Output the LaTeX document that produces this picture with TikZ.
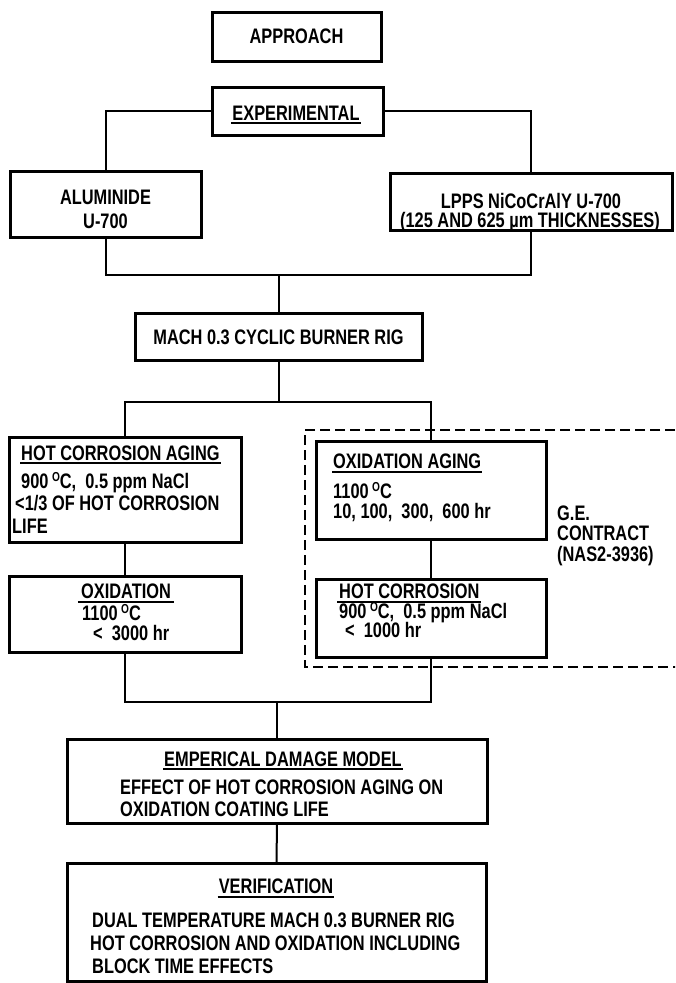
\documentclass[tikz,border=0pt]{standalone}
\usepackage{fontspec}
\newfontfamily\lab{Liberation Sans}[FakeStretch=0.78,UprightFont=*,BoldFont=* Bold]
\usetikzlibrary{calc}
\newcommand\dg{\raisebox{7pt}{\fontsize{13}{13}\selectfont O}}
\newcommand\bx[5]{\node[box,minimum width={(#4-#2)*1pt},minimum height={(#5-#3)*1pt}] (#1) at ({(#2+#4)/2},{(#3+#5)/2}) {};}
\begin{document}
\begin{tikzpicture}[x=1pt,y=-1pt,
  box/.style={draw,line width=3pt,inner sep=0pt,outer sep=0pt},
  conn/.style={line width=2pt},
  gedash/.style={line width=2pt,dash pattern=on 10pt off 5pt},
  t/.style={inner sep=0pt,font=\lab\bfseries\fontsize{21}{22}\selectfont},
  ul/.style={line width=1.8pt}]
\useasboundingbox (0,0) rectangle (675,983);
\clip (0,0) rectangle (675,983);
% dashed contract frame
\draw[gedash] (690,430) -- (305,430) -- (305,667) -- (690,667);
% boxes
\bx{appr}{212}{12}{381}{61}
\bx{exper}{212}{87}{383}{135}
\bx{alum}{10}{171}{201}{237}
\bx{lpps}{390}{173}{672}{230}
\bx{mach}{135}{313}{422}{360}
\bx{hca}{9}{437}{241}{542}
\bx{oxi}{9}{576}{241}{652}
\bx{oxa}{316}{441}{546}{539}
\bx{hc}{316}{579}{546}{657}
\bx{emp}{67}{739}{487}{823}
\bx{ver}{67}{863}{486}{981}
% texts
\node[t,anchor=base] (tap) at (296.5,43) {APPROACH};
\node[t,anchor=base] (tex) at (296,120) {EXPERIMENTAL};
\draw[ul] ($(tex.base west)+(-1,3)$) -- ($(tex.base east)+(1,3)$);
\node[t,anchor=base] (tal1) at (105.5,204) {ALUMINIDE};
\node[t,anchor=base] (tal2) at (105.5,228) {U-700};
\node[t,anchor=base] (tlp1) at (531,208) {LPPS NiCoCrAlY U-700};
\node[t,anchor=base] (tlp2) at (530,227) {(125 AND 625 µm THICKNESSES)};
\node[t,anchor=base] (tma) at (278.5,344) {MACH 0.3 CYCLIC BURNER RIG};
% hot corrosion aging
\node[t,anchor=base west] (th1) at (21,460) {HOT CORROSION AGING};
\draw[ul] ($(th1.base west)+(-1,3)$) -- ($(th1.base east)+(1,3)$);
\node[t,anchor=base west] (th2) at (21,488) {900\,\dg C, \ 0.5 ppm NaCl};
\node[t,anchor=base west] (th3) at (15,510) {<1/3 OF HOT CORROSION};
\node[t,anchor=base west] (th4) at (12,533) {LIFE};
% oxidation
\node[t,anchor=base] (to1) at (126,598) {OXIDATION};
\draw[ul] ($(to1.base west)+(-3,4)$) -- ($(to1.base east)+(3,4)$);
\node[t,anchor=base west] (to2) at (82,620) {1100\,\dg C};
\node[t,anchor=base west] (to3) at (93,640) {<\ \ 3000 hr};
% oxidation aging
\node[t,anchor=base west] (tx1) at (333,468) {OXIDATION AGING};
\draw[ul] ($(tx1.base west)+(-1,4)$) -- ($(tx1.base east)+(1,4)$);
\node[t,anchor=base west] (tx2) at (333,498) {1100\,\dg C};
\node[t,anchor=base west] (tx3) at (333,518) {10, 100, \ 300, \ 600 hr};
% hot corrosion
\node[t,anchor=base west] (tc1) at (339,598) {HOT CORROSION};
\draw[ul] ($(tc1.base west)+(-2,4)$) -- ($(tc1.base east)+(1,4)$);
\node[t,anchor=base west] (tc2) at (339,618) {900\,\dg C, \ 0.5 ppm NaCl};
\node[t,anchor=base west] (tc3) at (345,637) {<\ \ 1000 hr};
% G.E. contract
\node[t,anchor=base west] (tg1) at (557,520) {G.E.};
\node[t,anchor=base west] (tg2) at (557,540) {CONTRACT};
\node[t,anchor=base west] (tg3) at (557,561) {(NAS2-3936)};
% empirical model
\node[t,anchor=base] (te1) at (283,766) {EMPERICAL DAMAGE MODEL};
\draw[ul] ($(te1.base west)+(-1,3)$) -- ($(te1.base east)+(1,3)$);
\node[t,anchor=base west] (te2) at (120,794) {EFFECT OF HOT CORROSION AGING ON};
\node[t,anchor=base west] (te3) at (120,816) {OXIDATION COATING LIFE};
% verification
\node[t,anchor=base] (tv1) at (276,893) {VERIFICATION};
\draw[ul] ($(tv1.base west)+(-1,4)$) -- ($(tv1.base east)+(1,4)$);
\node[t,anchor=base west] (tv2) at (92,927) {DUAL TEMPERATURE MACH 0.3 BURNER RIG};
\node[t,anchor=base west] (tv3) at (90,950) {HOT CORROSION AND OXIDATION INCLUDING};
\node[t,anchor=base west] (tv4) at (92,973) {BLOCK TIME EFFECTS};
% connectors
\coordinate (j1) at (278.5,275);
\coordinate (j2) at (278.5,402);
\coordinate (j3) at (277,702);
\draw[conn] (exper.west) -| (alum.north);
\draw[conn] (exper.east) -| (lpps.north);
\draw[conn] (alum.south) |- (j1) -| (lpps.south);
\draw[conn] (j1) -- (mach.north);
\draw[conn] (mach.south) -- (j2);
\draw[conn] (hca.north) |- (j2) -| (oxa.north);
\draw[conn] (hca.south) -- (oxi.north);
\draw[conn] (oxa.south) -- (hc.north);
\draw[conn] (oxi.south) |- (j3) -| (hc.south);
\draw[conn] (j3) -- (emp.north);
\draw[conn] (emp.south) -- (ver.north);
\end{tikzpicture}
\end{document}
